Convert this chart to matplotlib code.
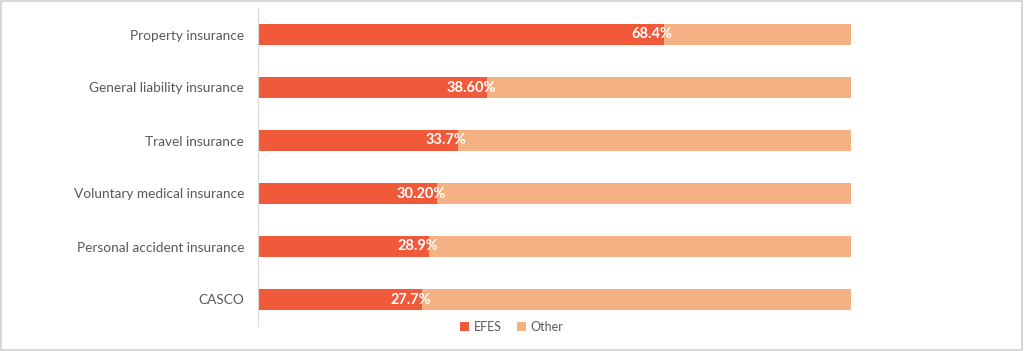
import matplotlib
matplotlib.use("Agg")
import matplotlib.pyplot as plt
from matplotlib.patches import Rectangle

categories = ["Property insurance", "General liability insurance", "Travel insurance",
              "Voluntary medical insurance", "Personal accident insurance", "CASCO"]
efes = [68.4, 38.60, 33.7, 30.20, 28.9, 27.7]
labels = ["68.4%", "38.60%", "33.7%", "30.20%", "28.9%", "27.7%"]
other = [100 - v for v in efes]

plt.rcParams['font.family'] = ['Lato', 'DejaVu Sans']

fig = plt.figure(figsize=(10.24, 3.51), dpi=100)
ax = fig.add_axes([258/1024, 1-326/351, (851-258)/1024, 318/351])

y = list(range(len(categories)))
c_efes = "#F05A3B"
c_other = "#F4B184"
ax.barh(y, efes, height=0.4, color=c_efes, label="EFES")
ax.barh(y, other, left=efes, height=0.4, color=c_other, label="Other")

for yi, v, t in zip(y, efes, labels):
    ax.text(v + 1.5, yi, t, ha='right', va='center', color='white',
            fontsize=10.5, fontweight='bold')

ax.set_xlim(0, 100)
ax.set_ylim(len(categories) - 0.5, -0.5)
ax.set_yticks(y)
ax.set_yticklabels(categories, color="#595959", fontsize=9.8)
ax.tick_params(axis='y', length=0, pad=10)
ax.set_xticks([])
for s in ['top', 'right', 'bottom']:
    ax.spines[s].set_visible(False)
ax.spines['left'].set_color("#D9D9D9")

leg = fig.legend(loc='center', bbox_to_anchor=(512/1024, 1-327/351), ncol=2,
                 frameon=False, fontsize=9, handlelength=0.7, handleheight=0.7,
                 handletextpad=0.4, columnspacing=1.2)
for t in leg.get_texts():
    t.set_color("#595959")

fig.patches.append(Rectangle((0.001, 0.002), 0.997, 0.995, transform=fig.transFigure,
                             fill=False, edgecolor="#D0D0D0", linewidth=1.2))

fig.savefig("out.png", dpi=100)
